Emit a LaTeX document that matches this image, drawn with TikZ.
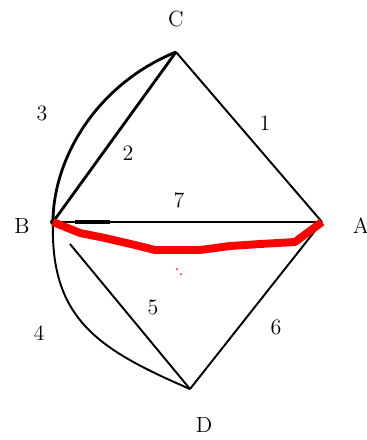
\documentclass[tikz,border=0pt]{standalone}
\usepackage{tikz}
\usetikzlibrary{positioning, arrows.meta}
\usepackage{amsmath,amssymb}

\begin{document}
\begin{tikzpicture}[x=0.02cm, y=-0.02cm, every node/.style={font=\fontsize{12.5}{14}\selectfont}]
\useasboundingbox (0,0) rectangle (367,440);
\coordinate (vC) at (176,52);
\coordinate (vB) at (53,222);
\coordinate (vA) at (322,222);
\coordinate (vD) at (190,389);
\coordinate (vE) at (70,244);
\node at (176,19)  {C};
\node at (22,226)  {B};
\node at (361,226) {A};
\node at (204,425) {D};
\node at (265,123) {1};
\node at (128,153) {2};
\node at (42,113)  {3};
\node at (39,333)  {4};
\node at (153,307) {5};
\node at (276,327) {6};
\node at (179,200) {7};
\draw (vC) edge[-, line width=1.1pt] (vA);
\draw (vB) edge[-, line width=1.6pt] (vC);
\draw [line width=1.6pt] (vB) .. controls (53,160) and (95,85) .. (vC);
\draw (vB) edge[-, line width=1.6pt] (vA);
\draw [line width=1.1pt] (vB) .. controls (50,320) and (100,350) .. (vD);
\draw (vE) edge[-, line width=1.1pt] (vD);
\draw (vA) edge[-, line width=1.1pt] (vD);
\fill (vB) circle (3);
\draw [line width=2.5pt] (75,222) -- (110,222);
\draw [red, line width=4.5pt, line join=round]
  (vB) -- (80,233) -- (105,238) -- (135,245) -- (155,250) -- (200,250)
  -- (230,246) -- (260,244) -- (295,242) -- (vA);
\fill [red] (177,269) circle (1);
\fill [red] (181,274) circle (1);
\end{tikzpicture}
\end{document}
